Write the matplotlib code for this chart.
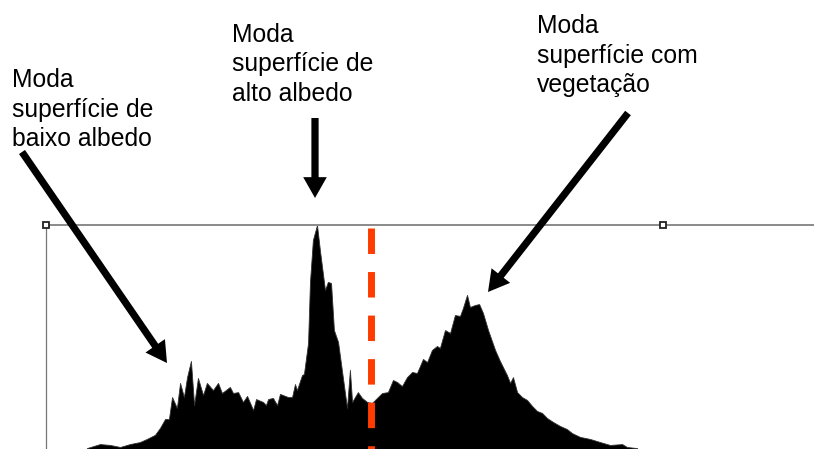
import matplotlib
matplotlib.use("Agg")
import matplotlib.pyplot as plt

# Histogram profile:
# grey level (0-255) and frequency in % of the highest bin
levels = [16.9, 22.3, 26.5, 30.6, 34.7, 38.8, 41.7, 45.0, 47.1, 49.2,
          50.8, 52.1, 54.1, 55.4, 57.0, 58.3, 59.9, 61.2, 62.8, 64.9,
          66.5, 69.0, 71.1, 72.7, 76.0, 77.3, 79.4, 81.4, 83.1, 85.6,
          86.8, 89.7, 90.9, 91.8, 93.8, 95.5, 96.7, 100.0, 101.7, 102.9,
          103.7, 105.8, 106.6, 108.3, 109.1, 110.3, 112.0, 113.2, 115.3, 116.5,
          117.8, 119.0, 120.7, 124.4, 125.6, 126.5, 128.9, 130.6, 132.7, 134.7,
          136.8, 138.9, 141.3, 143.4, 145.1, 147.1, 149.2, 151.3, 153.3, 155.8,
          157.5, 159.5, 161.6, 162.8, 164.9, 167.0, 169.0, 171.1, 172.3, 174.0,
          175.2, 177.3, 179.0, 180.6, 182.7, 185.6, 187.6, 190.5, 191.8, 193.0,
          194.7, 196.7, 198.8, 200.9, 202.9, 205.0, 207.1, 209.5, 212.4, 215.3,
          217.4, 220.7, 224.8, 229.0, 233.1, 238.1, 240.1, 244.3]
freq = [0.4, 2.2, 1.8, 0.9, 2.2, 3.1, 4.5, 6.3, 9.4, 13.4,
        13.4, 23.2, 18.3, 29.5, 23.2, 32.1, 39.3, 19.6, 31.7, 24.1,
        29.5, 26.3, 29.5, 25.0, 27.7, 25.0, 25.4, 21.0, 23.7, 17.4,
        22.3, 21.0, 19.6, 22.3, 22.8, 19.6, 24.6, 23.2, 23.2, 29.0,
        26.3, 33.0, 33.5, 47.3, 74.6, 93.3, 100.0, 88.8, 71.0, 74.6,
        74.1, 53.1, 47.8, 18.3, 35.3, 21.0, 25.4, 22.8, 21.0, 20.5,
        22.8, 25.0, 25.4, 30.8, 29.9, 28.1, 32.1, 34.4, 33.9, 40.2,
        38.8, 44.2, 46.0, 45.1, 53.1, 51.8, 59.8, 59.4, 62.9, 68.8,
        63.4, 64.3, 64.7, 60.7, 53.1, 44.2, 39.3, 33.0, 29.5, 32.1,
        25.4, 23.2, 21.9, 19.2, 17.0, 16.1, 13.8, 12.1, 10.3, 8.9,
        7.1, 5.4, 4.5, 3.1, 1.8, 2.2, 0.9, 0.4]

threshold = 134.3

labels = [["Moda", "superfície de", "baixo albedo"],
          ["Moda", "superfície de", "alto albedo"],
          ["Moda", "superfície com", "vegetação"]]

W, H = 814, 449

fig = plt.figure(figsize=(W / 100, H / 100), dpi=100)

# axes: level 0 at x=46px, level 255 at x=663px, top line continues to the edge
x_left, x_255 = 46, 663
right_lim = 255 * (W - x_left) / (x_255 - x_left)
ax = fig.add_axes([x_left / W, 0, (W - x_left) / W, 224 / H])
ax.set_xlim(0, right_lim)
ax.set_ylim(0, 100)

ax.fill_between(levels, freq, 0, color="black", lw=0.6, edgecolor="#333333")

# threshold line
ax.plot([threshold, threshold], [98.7, -5], color="#ff3c00", lw=5,
        dashes=(3.67, 2.6), solid_capstyle="butt", zorder=5)

# selection handles on the top line
ax.plot([0, 255], [100, 100], ls="none", marker="s", ms=4, mfc="white",
        mec="#222222", mew=1.3, clip_on=False, zorder=6)

for side in ["right", "bottom"]:
    ax.spines[side].set_visible(False)
ax.spines["top"].set_color("#8a8a8a")
ax.spines["top"].set_linewidth(1.4)
ax.spines["left"].set_color("#777777")
ax.spines["left"].set_linewidth(0.9)
ax.set_xticks([])
ax.set_yticks([])

# labels, one line at a time (x, first baseline in image pixels)
label_pos = [(12, 87), (232, 42), (537, 33)]
line_gap = 29.5
for (lx, ly), lines in zip(label_pos, labels):
    for i, txt in enumerate(lines):
        fig.text(lx / W, 1 - (ly + i * line_gap) / H, txt, fontsize=17.8,
                 family="Liberation Sans", va="baseline", ha="left")

# arrows (tail -> tip, image pixels)
arrows = [((22, 152), (167, 363)),
          ((315, 118), (315, 198)),
          ((628, 113), (488, 292))]
for (tx, ty), (hx, hy) in arrows:
    fig.add_artist(matplotlib.patches.FancyArrowPatch(
        (tx / W, 1 - ty / H), (hx / W, 1 - hy / H),
        transform=fig.transFigure,
        arrowstyle="simple,head_length=15,head_width=17,tail_width=5.2",
        mutation_scale=1, color="black", lw=0, shrinkA=0, shrinkB=0))

fig.savefig("out.png", dpi=100)
